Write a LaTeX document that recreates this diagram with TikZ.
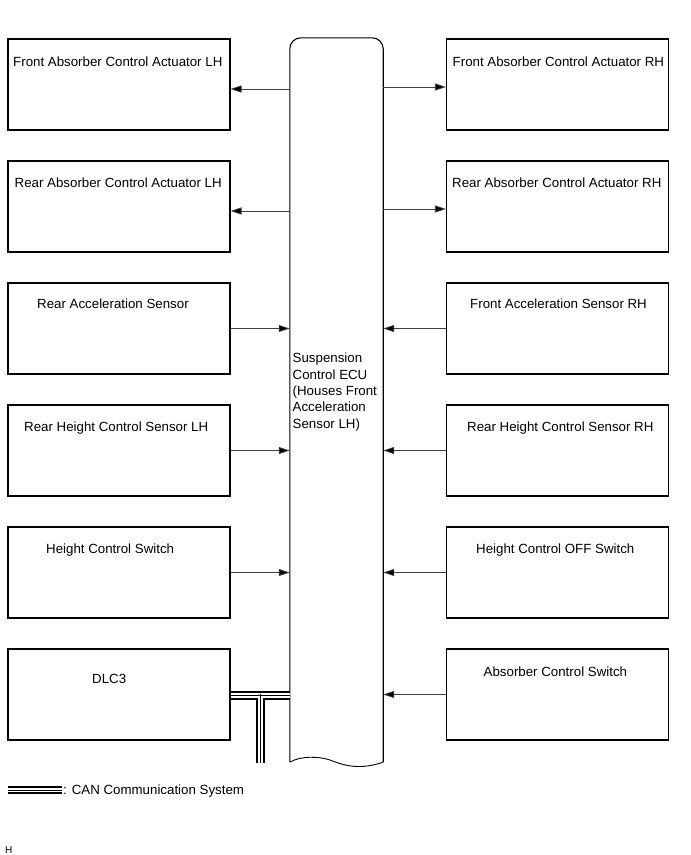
\documentclass[tikz,border=0pt]{standalone}
\usepackage{fontspec}
\setmainfont{Liberation Sans}
\usetikzlibrary{arrows.meta}
\begin{document}
\begin{tikzpicture}[x=1pt,y=-1pt,
  box/.style={draw,line width=1.1pt,minimum width=222pt,minimum height=91pt,inner sep=0pt},
  lbl/.style={anchor=base west,inner sep=0pt,font=\fontsize{13.3pt}{16.3pt}\selectfont},
  arr/.style={draw=black!75,line width=0.8pt,-{Triangle[length=11pt,width=7pt,fill=black]}},
  eculine/.style={line width=1.1pt},
  canout/.style={line width=9pt,black},
  canin/.style={line width=5pt,white},
  canmid/.style={line width=1pt,black}
]
\useasboundingbox (0,0) rectangle (691,855);
% ECU
\node[inner sep=0pt,minimum width=93pt,minimum height=724pt] (ecu) at (336.5,400) {};
\draw[eculine,rounded corners=11pt] (ecu.south west) -- (ecu.north west) -- (ecu.north east) -- (ecu.south east);
\draw[line width=0.9pt] (ecu.south west) .. controls (300,756) and (318,756) .. (330,760) .. controls (345,766) and (360,770) .. (ecu.south east);
\node[anchor=west,inner sep=0pt,align=left,font=\fontsize{13.3pt}{16.3pt}\selectfont] (ecut) at (292.5,392) {Suspension\\Control ECU\\(Houses Front\\Acceleration\\Sensor LH)};
% left boxes
\node[box] (fal) at (119,84.5) {};
\node[box] (ral) at (119,206.5) {};
\node[box] (ras) at (119,328.5) {};
\node[box] (rhl) at (119,450.5) {};
\node[box] (hcs) at (119,572.5) {};
\node[box] (dlc) at (119,694.5) {};
% right boxes
\node[box] (far) at (557.5,84.5) {};
\node[box] (rar) at (557.5,206.5) {};
\node[box] (fas) at (557.5,328.5) {};
\node[box] (rhr) at (557.5,450.5) {};
\node[box] (hco) at (557.5,572.5) {};
\node[box] (acs) at (557.5,694.5) {};
% labels
\node[lbl] (t1) at (13,66.8) {Front Absorber Control Actuator LH};
\node[lbl] (t2) at (14.5,187.3) {Rear Absorber Control Actuator LH};
\node[lbl] (t3) at (37,308) {Rear Acceleration Sensor};
\node[lbl] (t4) at (24,431.3) {Rear Height Control Sensor LH};
\node[lbl] (t5) at (46,553.5) {Height Control Switch};
\node[lbl] (t6) at (92,683.5) {DLC3};
\node[lbl] (u1) at (452.5,66.8) {Front Absorber Control Actuator RH};
\node[lbl] (u2) at (452,187.3) {Rear Absorber Control Actuator RH};
\node[lbl] (u3) at (470,308) {Front Acceleration Sensor RH};
\node[lbl] (u4) at (467,431.3) {Rear Height Control Sensor RH};
\node[lbl] (u5) at (476,553.5) {Height Control OFF Switch};
\node[lbl] (u6) at (483.5,676.5) {Absorber Control Switch};
% connector anchor points
\coordinate (p1) at ([yshift=-4.5pt]fal.east);
\coordinate (p2) at ([yshift=-4.5pt]ral.east);
\coordinate (q1) at ([yshift=-2.5pt]far.west);
\coordinate (q2) at ([yshift=-2.5pt]rar.west);
% outputs
\draw[arr] (ecu.west |- p1) -- (p1);
\draw[arr] (ecu.west |- p2) -- (p2);
\draw[arr] (ecu.east |- q1) -- (q1);
\draw[arr] (ecu.east |- q2) -- (q2);
% inputs
\draw[arr] (ras.east) -- (ecu.west |- ras.east);
\draw[arr] (rhl.east) -- (ecu.west |- rhl.east);
\draw[arr] (hcs.east) -- (ecu.west |- hcs.east);
\draw[arr] (fas.west) -- (ecu.east |- fas.west);
\draw[arr] (rhr.west) -- (ecu.east |- rhr.west);
\draw[arr] (hco.west) -- (ecu.east |- hco.west);
\draw[arr] (acs.west) -- (ecu.east |- acs.west);
% CAN bus
\coordinate (c1) at ([yshift=-1pt]dlc.east);
\coordinate (cj) at (260,693.5);
\coordinate (cb) at (260,763);
\draw[canout] (c1) -- (ecu.west |- c1) (cj) -- (cb);
\draw[canin] (c1) -- (ecu.west |- c1) (cj) -- (cb);
\draw[canmid] (c1) -- (ecu.west |- c1) (cj) -- (cb);
% legend
\coordinate (l1) at (8,790);
\coordinate (l2) at (62,790);
\draw[line width=8pt,black] (l1) -- (l2);
\draw[line width=4pt,white] (l1) -- (l2);
\draw[line width=0.9pt,black] (l1) -- (l2);
\node[lbl] (leg) at (63,794.8) {: CAN Communication System};
\node[anchor=base west,inner sep=0pt,font=\fontsize{10pt}{12pt}\selectfont] (hh) at (5,853) {H};
\end{tikzpicture}
\end{document}
